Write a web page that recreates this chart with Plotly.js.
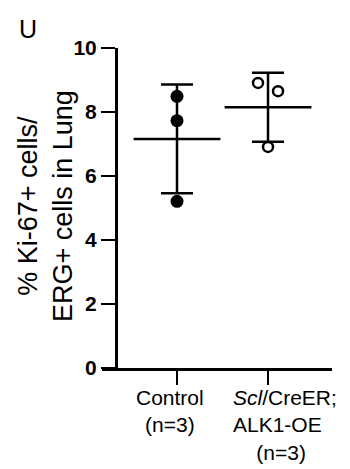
<!DOCTYPE html>
<html>
<head>
<meta charset="utf-8">
<script src="https://cdn.plot.ly/plotly-3.0.1.min.js"></script>
<style>html,body{margin:0;padding:0;background:#fff;}#chart{width:350px;height:469px;}</style>
</head>
<body>
<div id="chart"></div>
<script>
// ---- data ----
const categories = ['Control', 'SclCreER; ALK1-OE'];
const catPos = [1, 2];
const controlValues = [8.49, 7.73, 5.21];
const controlJitter = [0, 0, 0];
const alkValues = [8.91, 8.65, 6.91];
const alkJitter = [-0.11, 0.11, 0];
const means = [7.16, 8.15];
const sds = [1.70, 1.08];
const yTickVals = [0, 2, 4, 6, 8, 10];
const yTickText = ['0', '2', '4', '6', '8', '10'];
const xLabels = ['Control<br>(n=3)', '<i>Scl</i>/CreER;<br>ALK1-OE<br>\u00A0\u00A0\u00A0\u00A0(n=3)'];
const yTitle = '% Ki-67+ cells/<br>ERG+ cells in Lung';
const panelLetter = 'U';

const FONT = 'Liberation Sans, Arial, Helvetica, sans-serif';
const LW = 2.5;

const traces = [
  { // mean line + SD error bars
    type: 'scatter', mode: 'markers',
    x: catPos, y: means,
    marker: {symbol: 'line-ew', size: 62, color: 'black', line: {color: 'black', width: LW}},
    error_y: {type: 'data', array: sds, visible: true, color: 'black', thickness: LW, width: 16},
    hoverinfo: 'skip', showlegend: false
  },
  {
    type: 'scatter', mode: 'markers',
    x: controlValues.map((v, i) => catPos[0] + controlJitter[i]), y: controlValues,
    marker: {symbol: 'circle', size: 13, color: 'black', line: {width: 0}},
    showlegend: false
  },
  {
    type: 'scatter', mode: 'markers',
    x: alkValues.map((v, i) => catPos[1] + alkJitter[i]), y: alkValues,
    marker: {symbol: 'circle', size: 10, color: 'white', line: {color: 'black', width: LW}},
    showlegend: false
  }
];

const layout = {
  width: 350, height: 469,
  margin: {l: 102, r: 18, t: 48, b: 101},
  paper_bgcolor: 'white', plot_bgcolor: 'white',
  font: {family: FONT, color: 'black'},
  showlegend: false,
  xaxis: {
    range: [0.176, 2.703], tickvals: catPos, ticktext: ['', ''],
    showticklabels: false,
    ticks: 'outside', ticklen: 14, tickwidth: LW, tickcolor: 'black',
    showline: true, linecolor: 'black', linewidth: LW,
    showgrid: false, zeroline: false, fixedrange: true
  },
  yaxis: {
    range: [0, 10], anchor: 'free', position: 14 / 230,
    tickvals: yTickVals, ticktext: yTickText,
    tickfont: {family: FONT, size: 21, weight: 'bold', color: 'black'},
    ticks: 'outside', ticklen: 14, tickwidth: LW, tickcolor: 'black',
    showline: true, linecolor: 'black', linewidth: LW,
    showgrid: false, zeroline: false, fixedrange: true
  },
  annotations: [
    {text: xLabels[0], xref: 'x', yref: 'paper', x: catPos[0], xshift: -7, y: -0.05,
     xanchor: 'center', yanchor: 'top', align: 'center', showarrow: false,
     font: {family: FONT, size: 21, color: 'black'}},
    {text: xLabels[1], xref: 'x', yref: 'paper', x: catPos[1], xshift: -37, y: -0.05,
     xanchor: 'left', yanchor: 'top', align: 'left', showarrow: false,
     font: {family: FONT, size: 21, color: 'black'}},
    {text: yTitle, xref: 'paper', yref: 'paper', x: (45 - 102) / 230, y: 0.506,
     xanchor: 'center', yanchor: 'middle', textangle: -90, showarrow: false,
     font: {family: FONT, size: 27, color: 'black'}},
    {text: panelLetter, xref: 'paper', yref: 'paper', x: (28 - 102) / 230, y: (368 - 29) / 320,
     xanchor: 'center', yanchor: 'middle', showarrow: false,
     font: {family: FONT, size: 25, color: 'black'}}
  ]
};

Plotly.newPlot('chart', traces, layout, {displayModeBar: false, staticPlot: true});
</script>
</body>
</html>
